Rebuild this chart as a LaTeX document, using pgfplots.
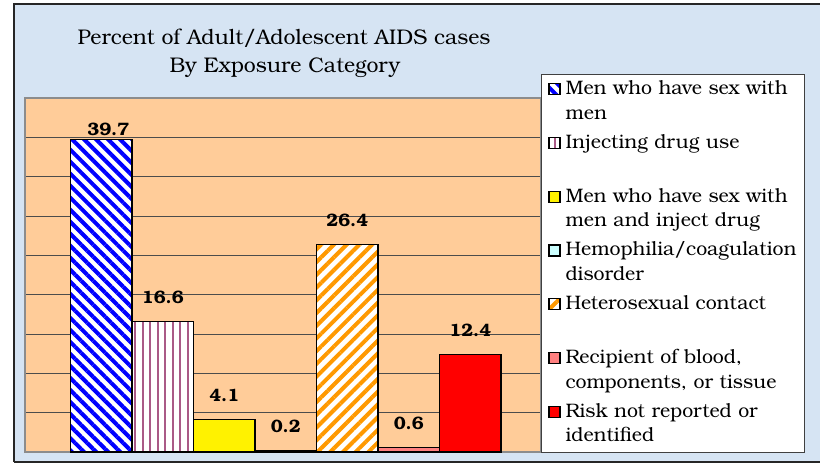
\documentclass[border=0pt]{standalone}
\usepackage{fontspec}
\setmainfont{texgyrebonum}[Extension=.otf, UprightFont=*-regular, BoldFont=*-bold, ItalicFont=*-italic, BoldItalicFont=*-bolditalic]
\usepackage{pgfplots}
\pgfplotsset{compat=1.18}
\usetikzlibrary{patterns.meta}
\definecolor{bgblue}{RGB}{214,228,243}
\definecolor{peach}{RGB}{255,204,153}
\definecolor{mauve}{RGB}{170,90,135}
\definecolor{orng}{RGB}{255,153,0}
\definecolor{lcyan}{RGB}{204,255,255}
\definecolor{salmon}{RGB}{255,128,128}
\newcommand\two[2]{\strut\mbox{#1}\\\strut\mbox{#2}}
\begin{document}
\begin{tikzpicture}[x=1pt,y=1pt]
\useasboundingbox (0,0) rectangle (820,464);
\fill[bgblue] (14,2) rectangle (822,460);
\draw[black!85, line width=1.2pt] (14,2) -- (14,460) -- (822,460);
\draw[black!85, line width=1.2pt] (14,2) -- (822,2);
\node[anchor=base, font=\fontsize{21.2}{28}\selectfont] at (284,419) {Percent of Adult/Adolescent AIDS cases};
\node[anchor=base, font=\fontsize{21.2}{28}\selectfont] at (285,391) {By Exposure Category};
\begin{axis}[
  at={(25pt,12pt)}, anchor=south west, scale only axis,
  width=516pt, height=354pt,
  xmin=-1.24, xmax=7.15, ymin=0, ymax=45,
  ytick={5,10,...,40}, xtick=\empty, yticklabels={},
  major tick length=0pt,
  ymajorgrids, major grid style={draw=black!70, line width=0.8pt},
  axis background/.style={fill=peach},
  axis line style={draw=black!45, line width=2pt},
  clip=false,
  /pgf/number format/assume math mode=true,
  /pgf/number format/.cd, fixed, fixed zerofill, precision=1, /pgfplots/.cd,
  nodes near coords style={anchor=base, yshift=18pt, text=black, font=\bfseries\fontsize{18}{20}\selectfont},
  legend style={
    at={(1,1.0678)}, anchor=north west, fill=white, draw=black!75, line width=0.8pt,
    inner xsep=7pt, inner ysep=3pt, row sep=4.8pt, column sep=5pt,
    font=\fontsize{19.5}{24.5}\selectfont,
    cells={anchor=base west},
    nodes={inner sep=0pt, text depth=, text width=232pt, align=left},
  },
  legend image code/.code={\draw[#1, line width=1.2pt, draw=black] (0pt,0pt) rectangle (11pt,11pt);},
]
\addplot[ybar, bar width=1, bar shift=0pt, fill=white, draw=black, line width=1.5pt,
  postaction={pattern={Lines[angle=-45,distance=8.5pt,line width=4pt]}, pattern color=blue},
  nodes near coords, nodes near coords style={yshift=-14pt, xshift=7pt}] coordinates {(0,39.7)};
\addlegendentry{\two{Men who have sex with}{men}}
\addplot[ybar, bar width=1, bar shift=0pt, fill=white, draw=black, line width=1.5pt,
  postaction={pattern={Lines[angle=90,distance=7.5pt,line width=2pt]}, pattern color=mauve},
  nodes near coords] coordinates {(1,16.6)};
\addlegendentry{\two{Injecting drug use}{}}
\addplot[ybar, bar width=1, bar shift=0pt, fill=yellow, draw=black, line width=1.5pt,
  nodes near coords] coordinates {(2,4.1)};
\addlegendentry{\two{Men who have sex with}{men and inject drug}}
\addplot[ybar, bar width=1, bar shift=0pt, fill=lcyan, draw=black, line width=1.5pt,
  nodes near coords] coordinates {(3,0.2)};
\addlegendentry{\two{Hemophilia/coagulation}{disorder}}
\addplot[ybar, bar width=1, bar shift=0pt, fill=white, draw=black, line width=1.5pt,
  postaction={pattern={Lines[angle=45,distance=9pt,line width=4pt]}, pattern color=orng},
  nodes near coords] coordinates {(4,26.4)};
\addlegendentry{\two{Heterosexual contact}{}}
\addplot[ybar, bar width=1, bar shift=0pt, fill=salmon, draw=black, line width=1.5pt,
  nodes near coords] coordinates {(5,0.6)};
\addlegendentry{\two{Recipient of blood,}{components, or tissue}}
\addplot[ybar, bar width=1, bar shift=0pt, fill=red, draw=black, line width=1.5pt,
  nodes near coords] coordinates {(6,12.4)};
\addlegendentry{\two{Risk not reported or}{identified}}
\end{axis}
\end{tikzpicture}
\end{document}
